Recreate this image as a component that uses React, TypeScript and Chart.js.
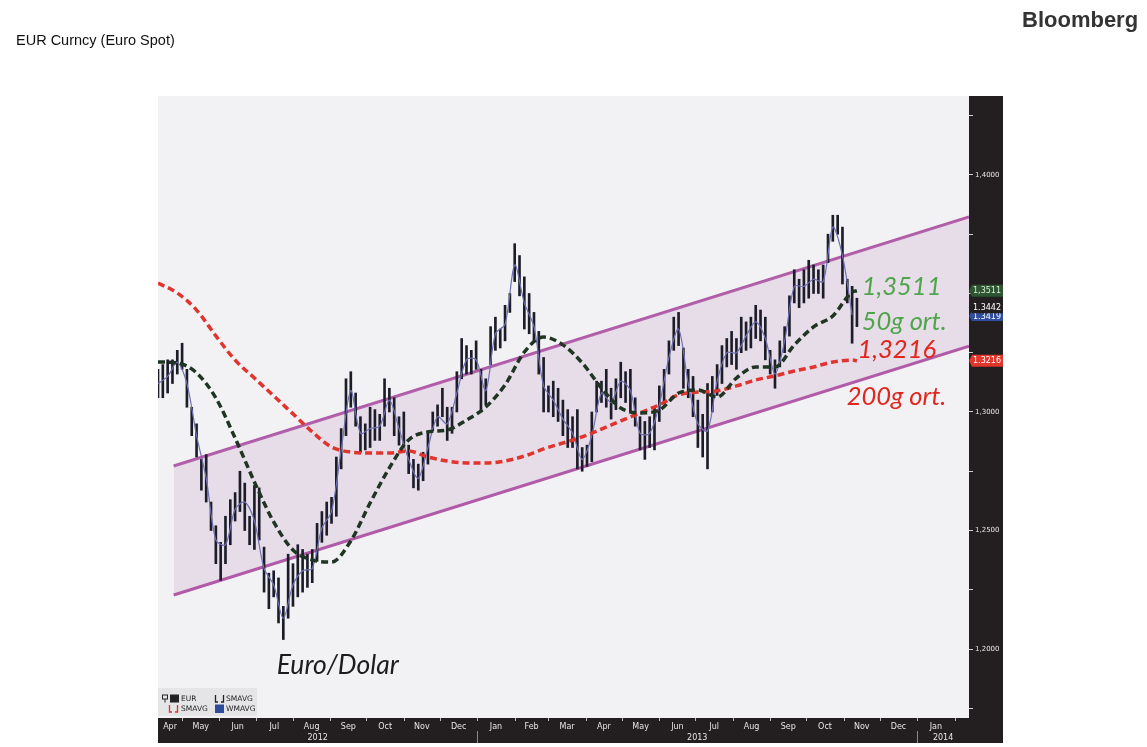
import React, { useEffect, useRef } from 'react';
import { Chart, registerables } from 'chart.js';

Chart.register(...registerables);

// x values are day numbers counted from 2012-01-01 (day 0)
const X_MIN = 101; // 2012-04-11
const X_MAX = 774; // 2014-02-13
const Y_MIN = 1.1709;
const Y_MAX = 1.4333;

// EUR daily ranges, sampled every 4 calendar days from 2012-04-11
const PRICE_START_DAY = 101;
const PRICE_STEP_DAYS = 4;
const EUR_LOW = [
  1.306, 1.306, 1.308, 1.312, 1.316, 1.318, 1.302, 1.290, 1.281, 1.267,
  1.262, 1.250, 1.236, 1.229, 1.236, 1.244, 1.254, 1.258, 1.250, 1.244,
  1.242, 1.246, 1.224, 1.217, 1.222, 1.211, 1.204, 1.213, 1.218, 1.222,
  1.224, 1.226, 1.228, 1.237, 1.245, 1.248, 1.253, 1.256, 1.276, 1.290,
  1.302, 1.294, 1.283, 1.284, 1.285, 1.288, 1.288, 1.294, 1.300, 1.290,
  1.286, 1.286, 1.274, 1.268, 1.267, 1.271, 1.278, 1.292, 1.294, 1.298,
  1.288, 1.291, 1.300, 1.314, 1.316, 1.316, 1.318, 1.300, 1.303, 1.320,
  1.326, 1.327, 1.330, 1.342, 1.355, 1.349, 1.335, 1.333, 1.330, 1.316,
  1.300, 1.300, 1.298, 1.296, 1.290, 1.285, 1.285, 1.276, 1.275, 1.277,
  1.279, 1.300, 1.304, 1.302, 1.297, 1.301, 1.306, 1.304, 1.300, 1.294,
  1.284, 1.280, 1.285, 1.284, 1.296, 1.304, 1.316, 1.326, 1.328, 1.310,
  1.306, 1.298, 1.285, 1.281, 1.276, 1.300, 1.307, 1.312, 1.319, 1.320,
  1.318, 1.325, 1.326, 1.327, 1.331, 1.330, 1.322, 1.316, 1.310, 1.319,
  1.325, 1.332, 1.346, 1.344, 1.346, 1.348, 1.350, 1.350, 1.348, 1.363,
  1.372, 1.375, 1.354, 1.346, 1.329, 1.336,
];
const EUR_HIGH = [
  1.318, 1.320, 1.322, 1.322, 1.326, 1.329, 1.318, 1.302, 1.295, 1.280,
  1.282, 1.262, 1.252, 1.245, 1.256, 1.263, 1.266, 1.275, 1.270, 1.256,
  1.269, 1.268, 1.243, 1.232, 1.233, 1.230, 1.218, 1.240, 1.236, 1.244,
  1.242, 1.240, 1.242, 1.253, 1.258, 1.262, 1.264, 1.281, 1.293, 1.314,
  1.317, 1.308, 1.298, 1.295, 1.302, 1.301, 1.299, 1.314, 1.310, 1.306,
  1.298, 1.300, 1.286, 1.280, 1.278, 1.283, 1.292, 1.300, 1.303, 1.310,
  1.302, 1.302, 1.317, 1.331, 1.328, 1.326, 1.330, 1.318, 1.314, 1.336,
  1.340, 1.335, 1.345, 1.350, 1.371, 1.366, 1.357, 1.350, 1.342, 1.334,
  1.323, 1.311, 1.313, 1.310, 1.305, 1.301, 1.298, 1.301, 1.285, 1.286,
  1.300, 1.313, 1.313, 1.318, 1.310, 1.314, 1.321, 1.317, 1.318, 1.306,
  1.298, 1.296, 1.298, 1.302, 1.311, 1.318, 1.330, 1.340, 1.342, 1.327,
  1.318, 1.315, 1.305, 1.299, 1.312, 1.315, 1.320, 1.328, 1.331, 1.334,
  1.331, 1.340, 1.338, 1.340, 1.345, 1.343, 1.340, 1.326, 1.322, 1.330,
  1.336, 1.349, 1.360, 1.356, 1.360, 1.364, 1.362, 1.360, 1.362, 1.375,
  1.383, 1.383, 1.378, 1.356, 1.353, 1.348,
];

// WMAVG, sampled every 8 days from 2012-04-11
const WMA_START_DAY = 101;
const WMA_STEP_DAYS = 8;
const WMAVG = [
  1.312, 1.315, 1.321, 1.312, 1.290, 1.272, 1.246, 1.244, 1.259, 1.262,
  1.254, 1.234, 1.227, 1.213, 1.227, 1.233, 1.234, 1.251, 1.258, 1.284,
  1.309, 1.291, 1.293, 1.294, 1.305, 1.293, 1.280, 1.272, 1.285, 1.298,
  1.295, 1.308, 1.322, 1.322, 1.309, 1.333, 1.337, 1.362, 1.346, 1.336,
  1.311, 1.305, 1.297, 1.291, 1.280, 1.290, 1.308, 1.304, 1.313, 1.309,
  1.291, 1.291, 1.303, 1.323, 1.335, 1.312, 1.295, 1.292, 1.313, 1.325,
  1.325, 1.332, 1.338, 1.331, 1.316, 1.330, 1.353, 1.353, 1.356, 1.355,
  1.378, 1.366, 1.341,
];

// moving averages
const MA_DAYS = [
  101, 117, 133, 149, 165, 181, 197, 213, 229, 245, 261, 277, 293, 309, 325,
  341, 357, 373, 389, 405, 421, 437, 453, 469, 485, 501, 517, 533, 549, 565,
  581, 597, 613, 629, 645, 661, 677, 681,
];
const SMA50 = [
  1.3211, 1.3207, 1.3165, 1.3059, 1.2890, 1.2705, 1.2536, 1.2418, 1.2376, 1.2367,
  1.2456, 1.2616, 1.2764, 1.2882, 1.2916, 1.2924, 1.2966, 1.3021, 1.3114, 1.3253,
  1.3316, 1.3283, 1.3207, 1.3101, 1.3017, 1.2996, 1.3008, 1.3080, 1.3093, 1.3063,
  1.3143, 1.3190, 1.3190, 1.3283, 1.3359, 1.3405, 1.3506, 1.3511,
];
const SMA200 = [
  1.3544, 1.3502, 1.3430, 1.3321, 1.3219, 1.3143, 1.3068, 1.2992, 1.2916, 1.2852,
  1.2831, 1.2827, 1.2827, 1.2835, 1.2810, 1.2793, 1.2785, 1.2785, 1.2793, 1.2814,
  1.2844, 1.2869, 1.2895, 1.2928, 1.2962, 1.2996, 1.3030, 1.3072, 1.3084, 1.3089,
  1.3110, 1.3135, 1.3152, 1.3173, 1.3190, 1.3211, 1.3219, 1.3216,
];

// trend channel
const CHANNEL_DAYS = [114, 774];
const CHANNEL_UPPER = [1.2772, 1.3823];
const CHANNEL_LOWER = [1.2228, 1.3278];

// axis ticks
const Y_TICKS = [1.175, 1.2, 1.225, 1.25, 1.275, 1.3, 1.325, 1.35, 1.375, 1.4, 1.425];
const Y_LABELED = [1.2, 1.25, 1.3, 1.4];
const MONTH_LABELS = [
  'Apr', 'May', 'Jun', 'Jul', 'Aug', 'Sep', 'Oct', 'Nov', 'Dec',
  'Jan', 'Feb', 'Mar', 'Apr', 'May', 'Jun', 'Jul', 'Aug', 'Sep', 'Oct', 'Nov', 'Dec',
  'Jan', 'Feb',
];
const MONTH_STARTS = [
  91, 121, 152, 182, 213, 244, 274, 305, 335,
  366, 397, 425, 456, 486, 517, 547, 578, 609, 639, 670, 700,
  731, 762, 790,
];
const YEAR_LABELS = ['2012', '2013', '2014'];
const YEAR_STARTS = [0, 366, 731, 1096];

// last-value boxes on the right axis
const LAST_LABELS = ['1,3511', '1.3419', '1.3442', '1.3216'];
const LAST_VALUES = [1.3511, 1.3405, 1.3442, 1.3216];
const LAST_COLORS = ['#2d5630', '#2f4f9e', '#231f20', '#e0362c'];

const BG_DARK = '#231f20';

const bgPlugin = {
  id: 'bbgBackground',
  beforeDraw(chart: any) {
    const { ctx, chartArea: a } = chart;
    ctx.save();
    ctx.fillStyle = '#f2f2f4';
    ctx.fillRect(a.left, a.top, a.right - a.left, a.bottom - a.top);
    ctx.fillStyle = BG_DARK;
    ctx.fillRect(a.right, a.top, 34, a.bottom - a.top + 25);
    ctx.fillRect(a.left, a.bottom, a.right - a.left, 25);
    ctx.restore();
  },
};

const overlayPlugin = {
  id: 'bbgOverlay',
  afterDraw(chart: any) {
    const { ctx, chartArea: a } = chart;
    const xs = chart.scales.x;
    const ys = chart.scales.y;
    ctx.save();

    // ---- time axis band ----
    const top = a.bottom;
    ctx.font = '8px "DejaVu Sans"';
    ctx.textAlign = 'center';
    ctx.textBaseline = 'middle';
    ctx.strokeStyle = '#bdbdbd';
    ctx.lineWidth = 1;
    for (let i = 0; i < MONTH_LABELS.length; i++) {
      const s = MONTH_STARTS[i];
      const e = MONTH_STARTS[i + 1];
      if (s > X_MIN && s < X_MAX) {
        const px = Math.round(xs.getPixelForValue(s)) + 0.5;
        ctx.beginPath();
        ctx.moveTo(px, top);
        ctx.lineTo(px, top + 3);
        ctx.stroke();
      }
      const lo = Math.max(s, X_MIN);
      const hi = Math.min(e, X_MAX);
      if (hi - lo < 15) continue;
      ctx.fillStyle = '#e6e6e6';
      ctx.fillText(MONTH_LABELS[i], xs.getPixelForValue((lo + hi) / 2), top + 9);
    }
    for (let i = 0; i < YEAR_LABELS.length; i++) {
      const s = YEAR_STARTS[i];
      const e = YEAR_STARTS[i + 1];
      const lo = Math.max(s, X_MIN);
      const hi = Math.min(e, X_MAX);
      if (hi <= lo) continue;
      ctx.fillStyle = '#e6e6e6';
      ctx.fillText(YEAR_LABELS[i], xs.getPixelForValue((lo + hi) / 2), top + 20);
      if (s > X_MIN && s < X_MAX) {
        const px = Math.round(xs.getPixelForValue(s)) + 0.5;
        ctx.strokeStyle = '#8a8a8a';
        ctx.beginPath();
        ctx.moveTo(px, top + 13);
        ctx.lineTo(px, top + 25);
        ctx.stroke();
      }
    }

    // ---- last value boxes ----
    ctx.textAlign = 'left';
    ctx.font = '8px "DejaVu Sans"';
    for (let i = 0; i < LAST_VALUES.length; i++) {
      const y = ys.getPixelForValue(LAST_VALUES[i]);
      const x0 = a.right + 3;
      const h = i === 1 ? 10 : 12;
      ctx.fillStyle = LAST_COLORS[i];
      ctx.beginPath();
      ctx.moveTo(x0 - 3, y);
      ctx.lineTo(x0, y - h / 2);
      ctx.lineTo(x0 + 31, y - h / 2);
      ctx.lineTo(x0 + 31, y + h / 2);
      ctx.lineTo(x0, y + h / 2);
      ctx.closePath();
      ctx.fill();
      ctx.fillStyle = i === 0 ? '#dcebd9' : '#ffffff';
      ctx.fillText(LAST_LABELS[i], x0 + 1, y + 0.5);
    }

    // ---- annotations ----
    const notes = [
      { t: '1,3511', d: 685, v: 1.3527, c: '#4fa54a', s: 25.5 },
      { t: '50g ort.', d: 685, v: 1.3382, c: '#4fa54a', s: 25.5 },
      { t: '1,3216', d: 681.5, v: 1.3262, c: '#e1261f', s: 25.5 },
      { t: '200g ort.', d: 672.5, v: 1.3063, c: '#e1261f', s: 25.5 },
      { t: 'Euro/Dolar', d: 199.5, v: 1.1932, c: '#1c1c1c', s: 26.5 },
    ];
    ctx.textBaseline = 'middle';
    for (const n of notes) {
      ctx.font = `italic ${n.s}px Lato`;
      ctx.fillStyle = n.c;
      ctx.fillText(n.t, xs.getPixelForValue(n.d), ys.getPixelForValue(n.v));
    }

    // ---- legend box ----
    const lx = a.left;
    const ly = a.bottom - 30;
    ctx.fillStyle = '#e5e5e7';
    ctx.fillRect(lx, ly, 99, 28);
    ctx.font = '7.5px "DejaVu Sans"';
    ctx.fillStyle = '#222';
    const r1 = ly + 10.5;
    const r2 = ly + 20.5;
    // EUR icon
    ctx.strokeStyle = '#222';
    ctx.lineWidth = 1;
    ctx.strokeRect(lx + 4.5, r1 - 3.5, 5, 4);
    ctx.beginPath();
    ctx.moveTo(lx + 7, r1 + 0.5);
    ctx.lineTo(lx + 7, r1 + 4);
    ctx.stroke();
    ctx.fillRect(lx + 12, r1 - 4, 9, 8);
    ctx.fillText('EUR', lx + 23, r1 + 0.5);
    const bracket = (x: number, y: number, col: string) => {
      ctx.strokeStyle = col;
      ctx.lineWidth = 1.3;
      ctx.beginPath();
      ctx.moveTo(x, y - 3.5);
      ctx.lineTo(x, y + 3.5);
      ctx.lineTo(x + 2.5, y + 3.5);
      ctx.moveTo(x + 5.5, y + 3.5);
      ctx.lineTo(x + 8, y + 3.5);
      ctx.lineTo(x + 8, y - 3.5);
      ctx.stroke();
    };
    bracket(lx + 57.5, r1, '#222');
    ctx.fillStyle = '#222';
    ctx.fillText('SMAVG', lx + 68, r1 + 0.5);
    bracket(lx + 11.5, r2, '#e0302a');
    ctx.fillStyle = '#222';
    ctx.fillText('SMAVG', lx + 23, r2 + 0.5);
    ctx.fillStyle = '#2e4c9c';
    ctx.fillRect(lx + 57, r2 - 4, 9, 8.5);
    ctx.fillStyle = '#222';
    ctx.fillText('WMAVG', lx + 68, r2 + 0.5);

    ctx.restore();
  },
};

export default function App() {
  const ref = useRef<HTMLCanvasElement>(null);

  useEffect(() => {
    const canvas = ref.current;
    if (!canvas) return;

    const bars = EUR_LOW.map((lo, i) => ({
      x: PRICE_START_DAY + i * PRICE_STEP_DAYS,
      y: [lo, EUR_HIGH[i]],
    }));
    const wma = WMAVG.map((v, i) => ({ x: WMA_START_DAY + i * WMA_STEP_DAYS, y: v }));
    const sma50 = SMA50.map((v, i) => ({ x: MA_DAYS[i], y: v }));
    const sma200 = SMA200.map((v, i) => ({ x: MA_DAYS[i], y: v }));
    const upper = CHANNEL_UPPER.map((v, i) => ({ x: CHANNEL_DAYS[i], y: v }));
    const lower = CHANNEL_LOWER.map((v, i) => ({ x: CHANNEL_DAYS[i], y: v }));

    const chart = new Chart(canvas, {
      type: 'line',
      data: {
        datasets: [
          {
            label: 'Channel top',
            data: upper,
            borderColor: '#b05aa8',
            borderWidth: 3,
            pointRadius: 0,
            fill: false,
            order: 5,
          },
          {
            label: 'Channel bottom',
            data: lower,
            borderColor: '#b05aa8',
            borderWidth: 3,
            pointRadius: 0,
            fill: '-1',
            backgroundColor: 'rgba(190,140,190,0.2)',
            order: 4,
          },
          {
            type: 'bar',
            label: 'EUR',
            data: bars as any,
            backgroundColor: '#1d1d2a',
            borderWidth: 0,
            barThickness: 2,
            order: 3,
          } as any,
          {
            label: 'WMAVG',
            data: wma,
            borderColor: '#6e70b4',
            borderWidth: 1.2,
            pointRadius: 0,
            tension: 0.3,
            fill: false,
            order: 2,
          },
          {
            label: 'SMAVG 200',
            data: sma200,
            borderColor: '#e0352e',
            borderWidth: 3.5,
            borderDash: [7, 4],
            pointRadius: 0,
            cubicInterpolationMode: 'monotone',
            fill: false,
            order: 1,
          },
          {
            label: 'SMAVG 50',
            data: sma50,
            borderColor: '#1f3521',
            borderWidth: 3.5,
            borderDash: [7, 4],
            pointRadius: 0,
            cubicInterpolationMode: 'monotone',
            fill: false,
            order: 0,
          },
        ],
      },
      options: {
        responsive: false,
        animation: false,
        devicePixelRatio: 1,
        layout: { padding: { left: 158, top: 96, right: 144, bottom: 29 } },
        plugins: {
          legend: { display: false },
          tooltip: { enabled: false },
        },
        scales: {
          x: {
            type: 'linear',
            min: X_MIN,
            max: X_MAX,
            offset: false,
            display: false,
            grid: { offset: false },
          },
          y: {
            type: 'linear',
            position: 'right',
            min: Y_MIN,
            max: Y_MAX,
            beginAtZero: false,
            afterBuildTicks: (s: any) => {
              s.ticks = Y_TICKS.map((v) => ({ value: v }));
            },
            afterFit: (s: any) => {
              s.width = 34;
            },
            ticks: {
              autoSkip: false,
              color: '#e8e8e8',
              padding: 2,
              font: { family: 'DejaVu Sans', size: 7 },
              callback: (v: any) =>
                Y_LABELED.some((t) => Math.abs(t - Number(v)) < 1e-6)
                  ? Number(v).toFixed(4).replace('.', ',')
                  : '',
            },
            grid: { drawOnChartArea: false, color: '#d0d0d0', tickLength: 4 },
            border: { display: false },
          },
        },
      },
      plugins: [bgPlugin, overlayPlugin],
    } as any);

    return () => chart.destroy();
  }, []);

  return (
    <div>
      <canvas
        ref={ref}
        width={1147}
        height={747}
        style={{ position: 'fixed', left: 0, top: 0, width: 1147, height: 747 }}
      />
      <div
        style={{
          position: 'fixed',
          left: 16,
          top: 32,
          font: '14.5px "Liberation Sans", Arial, sans-serif',
          lineHeight: '16px',
          color: '#111',
          whiteSpace: 'nowrap',
        }}
      >
        EUR Curncy (Euro Spot)
      </div>
      <div
        style={{
          position: 'fixed',
          left: 1022,
          top: 9,
          font: 'bold 22px "Liberation Sans", Arial, sans-serif',
          lineHeight: '22px',
          color: '#333',
          whiteSpace: 'nowrap',
        }}
      >
        Bloomberg
      </div>
    </div>
  );
}
